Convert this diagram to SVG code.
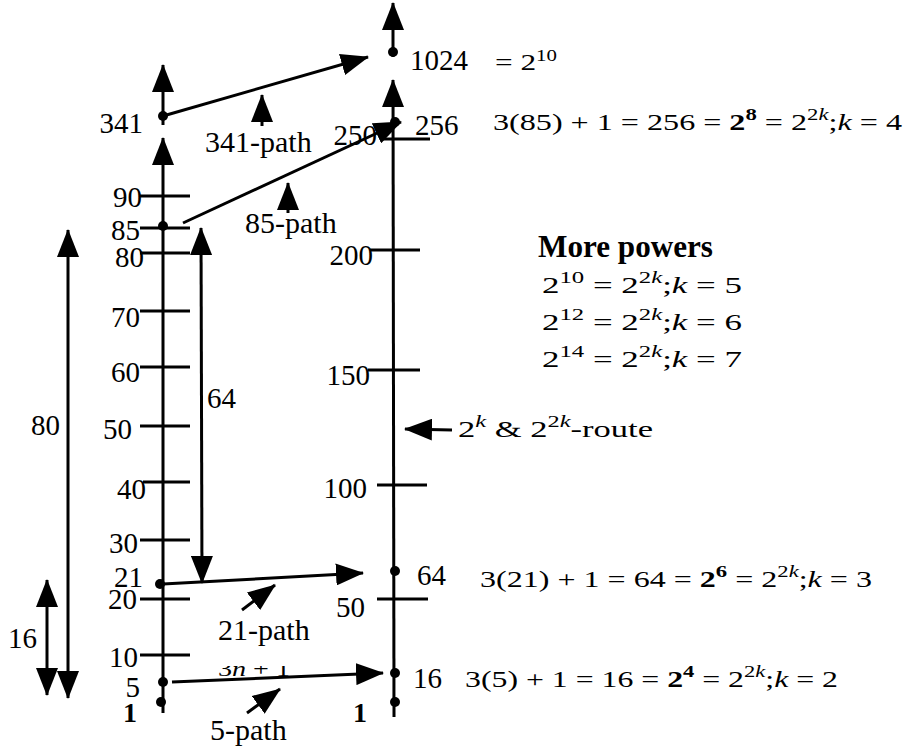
<svg xmlns="http://www.w3.org/2000/svg" width="906" height="750" viewBox="0 0 906 750">
<defs>
<marker id="ah" viewBox="0 0 28 22" markerWidth="28" markerHeight="22" refX="27" refY="11" orient="auto-start-reverse" markerUnits="userSpaceOnUse"><path d="M0,0 L28,11 L0,22 z" fill="#000"/></marker>
<clipPath id="clip3n"><rect x="200" y="666" width="110" height="20"/></clipPath>
</defs>
<style>
text{font-family:"Liberation Serif","Times New Roman",serif;fill:#000}
.num{font-size:29px}
.end{text-anchor:end}
.b{font-weight:bold}
.lbl{font-size:30px}
.eq{font-size:24px}
.it{font-style:italic}
line,path.l{stroke:#000;stroke-width:3;fill:none}
.arr{marker-end:url(#ah)}
.dbl{marker-end:url(#ah);marker-start:url(#ah)}
.dot{fill:#000}
</style>

<g id="axis-left">
<line class="arr" x1="163" y1="713" x2="163" y2="138"/>
<line x1="140" y1="196" x2="190" y2="196"/>
<line x1="140" y1="228" x2="190" y2="228"/>
<line x1="140" y1="253" x2="190" y2="253"/>
<line x1="140" y1="311" x2="190" y2="311"/>
<line x1="140" y1="367" x2="190" y2="367"/>
<line x1="140" y1="426" x2="190" y2="426"/>
<line x1="143" y1="482" x2="190" y2="482"/>
<line x1="140" y1="540" x2="190" y2="540"/>
<line x1="140" y1="599" x2="190" y2="599"/>
<line x1="140" y1="655" x2="190" y2="655"/>
<text class="num end" x="142" y="207">90</text>
<text class="num end" x="140" y="240">85</text>
<text class="num end" x="144" y="267">80</text>
<text class="num end" x="140" y="327">70</text>
<text class="num end" x="140" y="382">60</text>
<text class="num end" x="132" y="439">50</text>
<text class="num end" x="146" y="499">40</text>
<text class="num end" x="138" y="553">30</text>
<text class="num end" x="143" y="587">21</text>
<text class="num end" x="137" y="609">20</text>
<text class="num end" x="138" y="667">10</text>
<text class="num end" x="140" y="697">5</text>
<text class="num end b" x="137" y="722" style="font-size:28px">1</text>
</g>

<g id="node-341">
<line class="arr" x1="163" y1="125" x2="163" y2="65"/>
<circle class="dot" cx="163" cy="116" r="5"/>
<text class="num end" x="143" y="133">341</text>
</g>

<g id="axis-right">
<line class="arr" x1="394" y1="717" x2="393" y2="80"/>
<line x1="383" y1="139" x2="430" y2="139"/>
<line x1="370" y1="250" x2="420" y2="250"/>
<line x1="368" y1="370" x2="420" y2="370"/>
<line x1="377" y1="485" x2="427" y2="485"/>
<line x1="377" y1="599" x2="428" y2="599"/>
<text class="num end" x="377" y="145">250</text>
<text class="num end" x="373" y="265">200</text>
<text class="num end" x="370" y="385">150</text>
<text class="num end" x="367" y="498">100</text>
<text class="num end" x="365" y="617">50</text>
<text class="num end b" x="367" y="722" style="font-size:28px">1</text>
<circle class="dot" cx="395" cy="702" r="5"/>
</g>

<g id="node-1024">
<line class="arr" x1="393" y1="57" x2="393" y2="3"/>
<circle class="dot" cx="393" cy="52" r="5"/>
<text class="num" x="410" y="70">1024</text>
<text class="eq" x="495" y="70" textLength="62" lengthAdjust="spacingAndGlyphs">= 2<tspan dy="-9" font-size="16">10</tspan></text>
</g>

<g id="node-256">
<circle class="dot" cx="395" cy="122" r="5"/>
<text class="num" x="415" y="135">256</text>
<text class="eq" x="493" y="130" textLength="409" lengthAdjust="spacingAndGlyphs">3(85) + 1 = 256 = <tspan class="b">2</tspan><tspan class="b" dy="-10" font-size="17">8</tspan><tspan dy="10"> = 2</tspan><tspan dy="-10" font-size="17">2<tspan class="it">k</tspan></tspan><tspan dy="10">;</tspan><tspan class="it">k</tspan> = 4</text>
</g>

<g id="node-85">
<circle class="dot" cx="163" cy="226" r="5"/>
</g>

<g id="node-21">
<circle class="dot" cx="160" cy="584" r="5"/>
</g>

<g id="node-5">
<circle class="dot" cx="163" cy="682" r="5"/>
</g>

<g id="node-1">
<circle class="dot" cx="161" cy="702" r="5"/>
</g>

<g id="node-64">
<circle class="dot" cx="395" cy="571" r="5"/>
<text class="num" x="417" y="585">64</text>
<text class="eq" x="480" y="587" textLength="392" lengthAdjust="spacingAndGlyphs">3(21) + 1 = 64 = <tspan class="b">2</tspan><tspan class="b" dy="-10" font-size="17">6</tspan><tspan dy="10"> = 2</tspan><tspan dy="-10" font-size="17">2<tspan class="it">k</tspan></tspan><tspan dy="10">;</tspan><tspan class="it">k</tspan> = 3</text>
</g>

<g id="node-16">
<circle class="dot" cx="395" cy="673" r="5"/>
<text class="num" x="413" y="688">16</text>
<text class="eq" x="465" y="687" textLength="373" lengthAdjust="spacingAndGlyphs">3(5) + 1 = 16 = <tspan class="b">2</tspan><tspan class="b" dy="-10" font-size="17">4</tspan><tspan dy="10"> = 2</tspan><tspan dy="-10" font-size="17">2<tspan class="it">k</tspan></tspan><tspan dy="10">;</tspan><tspan class="it">k</tspan> = 2</text>
</g>

<g id="connectors">
<line class="arr" x1="163" y1="116" x2="368" y2="57"/>
<line class="arr" x1="183" y1="223" x2="401" y2="122"/>
<line class="arr" x1="163" y1="584" x2="363" y2="573"/>
<line class="arr" x1="172" y1="682" x2="383" y2="673"/>
</g>

<g id="spans">
<line class="dbl" x1="68" y1="698" x2="68" y2="230"/>
<text class="num" x="31" y="435">80</text>
<line class="dbl" x1="47" y1="695" x2="47" y2="580"/>
<text class="num" x="8" y="648">16</text>
<line class="dbl" x1="201" y1="228" x2="202" y2="583"/>
<text class="num" x="207" y="408">64</text>
</g>

<g id="path-labels">
<line class="arr" x1="262" y1="126" x2="262" y2="95"/>
<text class="lbl" x="205" y="152">341-path</text>
<line class="arr" x1="288" y1="213" x2="288" y2="183"/>
<text class="lbl" x="245" y="233">85-path</text>
<line class="arr" x1="242" y1="610" x2="275" y2="585"/>
<text class="lbl" x="218" y="640">21-path</text>
<line class="arr" x1="247" y1="713" x2="280" y2="689"/>
<text class="lbl" x="210" y="740">5-path</text>
<text x="218" y="676" clip-path="url(#clip3n)" style="font-size:21px" textLength="72" lengthAdjust="spacingAndGlyphs">3<tspan class="it">n</tspan> + 1</text>
</g>

<g id="route">
<line class="arr" x1="452" y1="430" x2="405" y2="429"/>
<text class="eq" x="458" y="437" textLength="195" lengthAdjust="spacingAndGlyphs">2<tspan class="it" dy="-10" font-size="17">k</tspan><tspan dy="10"> &amp; 2</tspan><tspan dy="-10" font-size="17">2<tspan class="it">k</tspan></tspan><tspan dy="10">-route</tspan></text>
</g>

<g id="more-powers">
<text class="b" x="538" y="257" style="font-size:31px" textLength="175" lengthAdjust="spacingAndGlyphs">More powers</text>
<text class="eq" x="542" y="293" textLength="200" lengthAdjust="spacingAndGlyphs">2<tspan dy="-10" font-size="17">10</tspan><tspan dy="10"> = 2</tspan><tspan dy="-10" font-size="17">2<tspan class="it">k</tspan></tspan><tspan dy="10">;</tspan><tspan class="it">k</tspan> = 5</text>
<text class="eq" x="542" y="330" textLength="200" lengthAdjust="spacingAndGlyphs">2<tspan dy="-10" font-size="17">12</tspan><tspan dy="10"> = 2</tspan><tspan dy="-10" font-size="17">2<tspan class="it">k</tspan></tspan><tspan dy="10">;</tspan><tspan class="it">k</tspan> = 6</text>
<text class="eq" x="542" y="367" textLength="200" lengthAdjust="spacingAndGlyphs">2<tspan dy="-10" font-size="17">14</tspan><tspan dy="10"> = 2</tspan><tspan dy="-10" font-size="17">2<tspan class="it">k</tspan></tspan><tspan dy="10">;</tspan><tspan class="it">k</tspan> = 7</text>
</g>
</svg>
